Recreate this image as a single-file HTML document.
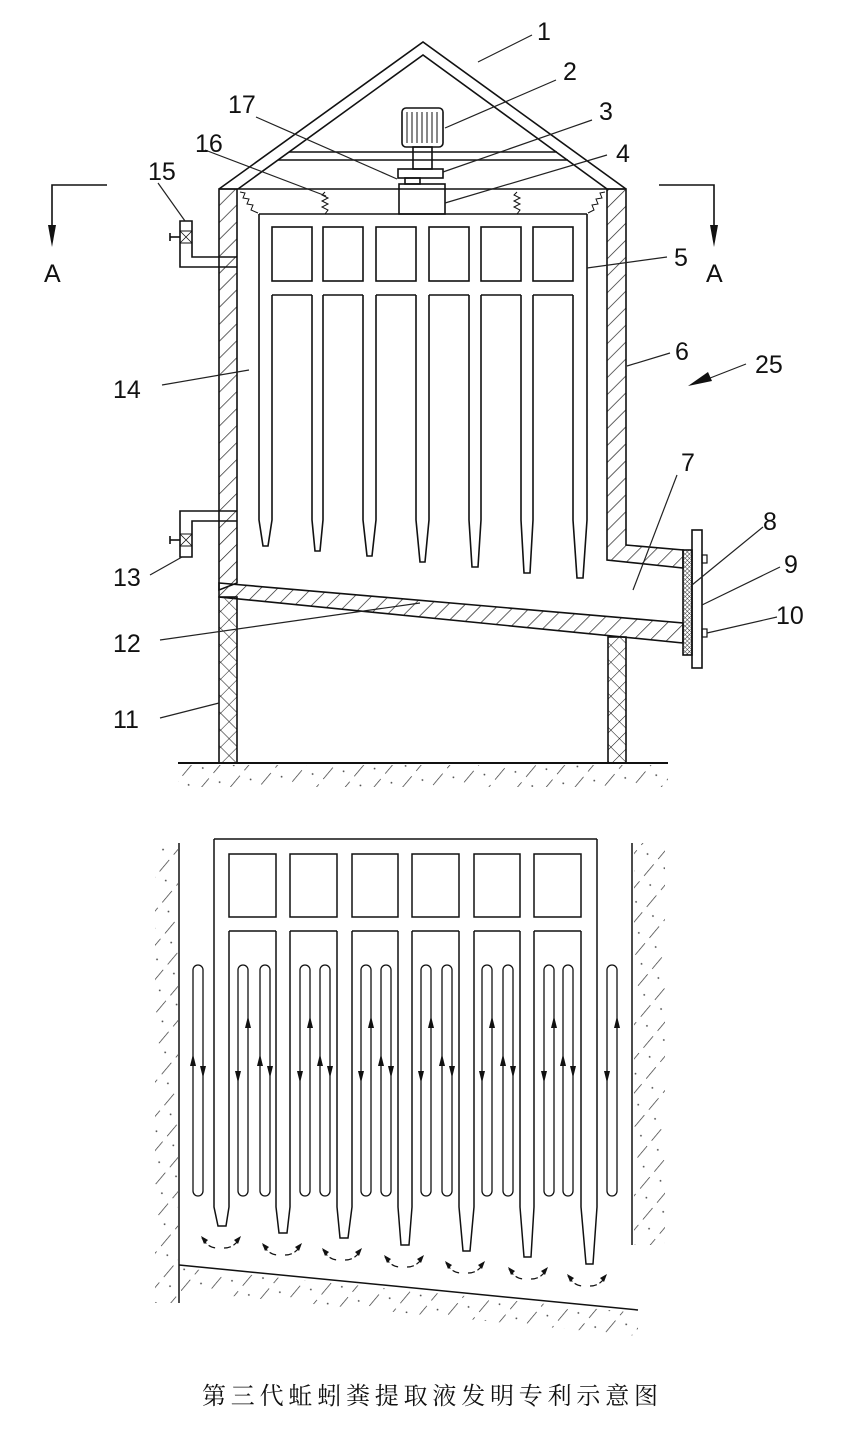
<!DOCTYPE html>
<html><head><meta charset="utf-8"><style>
html,body{margin:0;padding:0;background:#fff;}
svg{display:block;}
text{font-family:"Liberation Sans",sans-serif;font-size:25px;fill:#111;}
.cap{font-family:"Liberation Serif","Noto Serif CJK SC",serif;font-size:24px;letter-spacing:4.8px;}
</style></head><body>
<svg width="865" height="1429" viewBox="0 0 865 1429" xmlns="http://www.w3.org/2000/svg">
<defs>
<pattern id="h" width="12" height="12" patternUnits="userSpaceOnUse" patternTransform="rotate(45)"><line x1="0" y1="0" x2="0" y2="12" stroke="#222" stroke-width="1.4"/></pattern>
<pattern id="x" width="12" height="12" patternUnits="userSpaceOnUse" patternTransform="rotate(45)"><line x1="0" y1="0" x2="0" y2="12" stroke="#222" stroke-width="1.1"/><line x1="0" y1="0" x2="12" y2="0" stroke="#222" stroke-width="1.1"/></pattern>
<pattern id="f" width="3" height="3" patternUnits="userSpaceOnUse" patternTransform="rotate(45)"><line x1="0" y1="0" x2="0" y2="3" stroke="#222" stroke-width="0.9"/><line x1="0" y1="0" x2="3" y2="0" stroke="#222" stroke-width="0.9"/></pattern>
<pattern id="g" width="22" height="22" patternUnits="userSpaceOnUse" patternTransform="rotate(40)"><line x1="0" y1="0" x2="0" y2="15" stroke="#333" stroke-width="1.4"/><circle cx="11" cy="18" r="0.9" fill="#444"/></pattern>
</defs>
<g fill="none" stroke="#111" stroke-width="1.6">
<polyline points="219,189 423,42 626,189"/>
<polyline points="238,189 423,55 607,189"/>
<line x1="289" y1="152" x2="557" y2="152"/>
<line x1="278" y1="160" x2="568" y2="160"/>
<line x1="219" y1="189" x2="626" y2="189"/>
<rect x="402" y="108" width="41" height="39" rx="4"/>
<line x1="407" y1="112" x2="407" y2="143" stroke-width="1"/><line x1="412" y1="112" x2="412" y2="143" stroke-width="1"/><line x1="417" y1="112" x2="417" y2="143" stroke-width="1"/><line x1="422" y1="112" x2="422" y2="143" stroke-width="1"/><line x1="427" y1="112" x2="427" y2="143" stroke-width="1"/><line x1="432" y1="112" x2="432" y2="143" stroke-width="1"/><line x1="437" y1="112" x2="437" y2="143" stroke-width="1"/>
<rect x="413" y="147" width="19" height="22"/>
<rect x="398" y="169" width="45" height="9"/>
<rect x="405" y="178" width="15" height="6"/>
<rect x="399" y="184" width="46" height="30"/>
<polyline stroke-width="1" points="325,192 322,195 328,198 322,201 328,204 322,207 328,210 325,214"/>
<polyline stroke-width="1" points="517,192 514,195 520,198 514,201 520,204 514,207 520,210 517,214"/>
<polyline stroke-width="1" points="240,192 245,193 243,198 249,199 247,204 253,205 251,210 258,213"/>
<polyline stroke-width="1" points="605,192 600,193 602,198 596,199 598,204 592,205 594,210 588,213"/>
<polygon fill="url(#h)" points="219,189 237,189 237,583 219,590"/>
<polygon fill="url(#h)" points="607,189 626,189 626,545 683,550 683,568 607,560"/>
<polygon fill="url(#h)" points="219,583 683,623 683,643 219,597" />
<rect x="219" y="597" width="18" height="166" fill="url(#x)"/>
<rect x="608" y="637" width="18" height="126" fill="url(#x)"/>
<rect x="683" y="550" width="9" height="105" fill="url(#f)"/>
<rect x="692" y="530" width="10" height="138"/>
<rect x="702" y="555" width="5" height="8" stroke-width="1.2"/>
<rect x="702" y="629" width="5" height="8" stroke-width="1.2"/>
<polyline points="237,257 192,257 192,221 180,221 180,267 237,267"/>
<rect x="180" y="231" width="12" height="12" stroke-width="1"/><line x1="180" y1="231" x2="192" y2="243" stroke-width="0.8"/><line x1="192" y1="231" x2="180" y2="243" stroke-width="0.8"/>
<line x1="170" y1="237" x2="180" y2="237"/><line x1="170" y1="233" x2="170" y2="241"/>
<polyline points="237,511 180,511 180,557 192,557 192,521 237,521"/>
<rect x="180" y="534" width="12" height="12" stroke-width="1"/><line x1="180" y1="534" x2="192" y2="546" stroke-width="0.8"/><line x1="192" y1="534" x2="180" y2="546" stroke-width="0.8"/>
<line x1="170" y1="540" x2="180" y2="540"/><line x1="170" y1="536" x2="170" y2="544"/>
<line x1="178" y1="763" x2="668" y2="763" stroke-width="2"/>
<rect x="178" y="765" width="490" height="22" fill="url(#g)" stroke="none"/>
<line x1="259" y1="214" x2="587" y2="214"/>
<rect x="272" y="227" width="40" height="54"/><rect x="323" y="227" width="40" height="54"/><rect x="376" y="227" width="40" height="54"/><rect x="429" y="227" width="40" height="54"/><rect x="481" y="227" width="40" height="54"/><rect x="533" y="227" width="40" height="54"/>
<line x1="272" y1="295" x2="312" y2="295"/><line x1="323" y1="295" x2="363" y2="295"/><line x1="376" y1="295" x2="416" y2="295"/><line x1="429" y1="295" x2="469" y2="295"/><line x1="481" y1="295" x2="521" y2="295"/><line x1="533" y1="295" x2="573" y2="295"/>
<polyline points="259,214 259,520 263,546 268,546 272,520 272,295"/>
<polyline points="312,295 312,520 315,551 320,551 323,520 323,295"/>
<polyline points="363,295 363,520 367,556 372,556 376,520 376,295"/>
<polyline points="416,295 416,520 420,562 425,562 429,520 429,295"/>
<polyline points="469,295 469,520 472,567 478,567 481,520 481,295"/>
<polyline points="521,295 521,520 524,573 530,573 533,520 533,295"/>
<polyline points="573,295 573,520 577,578 583,578 587,520 587,214"/>
<polyline points="107,185 52,185 52,230"/>
<polyline points="659,185 714,185 714,230"/>
</g>
<polygon points="48,225 56,225 52,247" fill="#111"/>
<polygon points="710,225 718,225 714,247" fill="#111"/>
<text x="44" y="282">A</text><text x="706" y="282">A</text>
<g stroke="#222" stroke-width="1.2">
<line x1="478" y1="62" x2="532" y2="35"/>
<line x1="445" y1="128" x2="556" y2="80"/>
<line x1="443" y1="172" x2="592" y2="120"/>
<line x1="445" y1="203" x2="607" y2="155"/>
<line x1="397" y1="179" x2="256" y2="117"/>
<line x1="326" y1="196" x2="205" y2="150"/>
<line x1="185" y1="221" x2="158" y2="183"/>
<line x1="587" y1="268" x2="667" y2="257"/>
<line x1="627" y1="366" x2="670" y2="353"/>
<line x1="705" y1="380" x2="746" y2="364"/>
<line x1="633" y1="590" x2="677" y2="475"/>
<line x1="692" y1="585" x2="763" y2="527"/>
<line x1="702" y1="605" x2="780" y2="567"/>
<line x1="707" y1="633" x2="777" y2="617"/>
<line x1="160" y1="640" x2="420" y2="603"/>
<line x1="160" y1="718" x2="219" y2="703"/>
<line x1="150" y1="575" x2="182" y2="557"/>
<line x1="162" y1="385" x2="249" y2="370"/>
</g>
<polygon points="688,386 708,372 712,381" fill="#111"/>
<text x="537" y="40">1</text><text x="563" y="80">2</text><text x="599" y="120">3</text><text x="616" y="162">4</text>
<text x="228" y="113">17</text><text x="195" y="152">16</text><text x="148" y="180">15</text>
<text x="674" y="266">5</text><text x="675" y="360">6</text><text x="755" y="373">25</text>
<text x="681" y="471">7</text><text x="763" y="530">8</text><text x="784" y="573">9</text><text x="776" y="624">10</text>
<text x="113" y="398">14</text><text x="113" y="586">13</text><text x="113" y="652">12</text><text x="113" y="728">11</text>

<g fill="none" stroke="#111" stroke-width="1.5">
<line x1="179" y1="843" x2="179" y2="1303"/>
<rect x="155" y="843" width="23" height="460" fill="url(#g)" stroke="none"/>
<line x1="632" y1="843" x2="632" y2="1245"/>
<rect x="634" y="843" width="31" height="402" fill="url(#g)" stroke="none"/>
<line x1="179" y1="1265" x2="638" y2="1310"/>
<polygon points="181,1268 638,1313 638,1336 181,1291" fill="url(#g)" stroke="none"/>
<line x1="214" y1="839" x2="597" y2="839"/>
<rect x="229" y="854" width="47" height="63"/><rect x="290" y="854" width="47" height="63"/><rect x="352" y="854" width="46" height="63"/><rect x="412" y="854" width="47" height="63"/><rect x="474" y="854" width="46" height="63"/><rect x="534" y="854" width="47" height="63"/>
<line x1="229" y1="931" x2="276" y2="931"/><line x1="290" y1="931" x2="337" y2="931"/><line x1="352" y1="931" x2="398" y2="931"/><line x1="412" y1="931" x2="459" y2="931"/><line x1="474" y1="931" x2="520" y2="931"/><line x1="534" y1="931" x2="581" y2="931"/>
<polyline points="214,839 214,1207 218,1226 226,1226 229,1207 229,931"/>
<polyline points="276,931 276,1207 279,1233 287,1233 290,1207 290,931"/>
<polyline points="337,931 337,1207 340,1238 348,1238 352,1207 352,931"/>
<polyline points="398,931 398,1207 401,1245 409,1245 412,1207 412,931"/>
<polyline points="459,931 459,1207 463,1251 470,1251 474,1207 474,931"/>
<polyline points="520,931 520,1207 524,1257 531,1257 534,1207 534,931"/>
<polyline points="581,931 581,1207 586,1264 593,1264 597,1207 597,839"/>
<g stroke-width="1.3">
<rect x="193" y="965" width="10" height="231" rx="5"/>
<rect x="238" y="965" width="10" height="231" rx="5"/><rect x="260" y="965" width="10" height="231" rx="5"/>
<rect x="300" y="965" width="10" height="231" rx="5"/><rect x="320" y="965" width="10" height="231" rx="5"/>
<rect x="361" y="965" width="10" height="231" rx="5"/><rect x="381" y="965" width="10" height="231" rx="5"/>
<rect x="421" y="965" width="10" height="231" rx="5"/><rect x="442" y="965" width="10" height="231" rx="5"/>
<rect x="482" y="965" width="10" height="231" rx="5"/><rect x="503" y="965" width="10" height="231" rx="5"/>
<rect x="544" y="965" width="10" height="231" rx="5"/><rect x="563" y="965" width="10" height="231" rx="5"/>
<rect x="607" y="965" width="10" height="231" rx="5"/>
</g>
<g stroke-width="1.2" stroke-dasharray="7,3">
<path d="M202,1238 Q208,1248 217,1248 M224,1248 Q234,1248 240,1238"/>
<path d="M263,1245 Q269,1255 278,1255 M285,1255 Q295,1255 301,1245"/>
<path d="M323,1250 Q329,1260 338,1260 M345,1260 Q355,1260 361,1250"/>
<path d="M385,1257 Q391,1267 400,1267 M407,1267 Q417,1267 423,1257"/>
<path d="M446,1263 Q452,1273 461,1273 M468,1273 Q478,1273 484,1263"/>
<path d="M509,1269 Q515,1279 524,1279 M531,1279 Q541,1279 547,1269"/>
<path d="M568,1276 Q574,1286 583,1286 M590,1286 Q600,1286 606,1276"/>
</g>
</g>
<g fill="#111">
<polygon points="201,1236 208,1240 204,1244"/><polygon points="241,1236 234,1240 238,1244"/>
<polygon points="262,1243 269,1247 265,1251"/><polygon points="302,1243 295,1247 299,1251"/>
<polygon points="322,1248 329,1252 325,1256"/><polygon points="362,1248 355,1252 359,1256"/>
<polygon points="384,1255 391,1259 387,1263"/><polygon points="424,1255 417,1259 421,1263"/>
<polygon points="445,1261 452,1265 448,1269"/><polygon points="485,1261 478,1265 482,1269"/>
<polygon points="508,1267 515,1271 511,1275"/><polygon points="548,1267 541,1271 545,1275"/>
<polygon points="567,1274 574,1278 570,1282"/><polygon points="607,1274 600,1278 604,1282"/>
<polygon points="190,1066 193,1054 196,1066"/><polygon points="200,1066 203,1078 206,1066"/>
<polygon points="235,1071 238,1083 241,1071"/><polygon points="245,1028 248,1016 251,1028"/>
<polygon points="257,1066 260,1054 263,1066"/><polygon points="267,1066 270,1078 273,1066"/>
<polygon points="297,1071 300,1083 303,1071"/><polygon points="307,1028 310,1016 313,1028"/>
<polygon points="317,1066 320,1054 323,1066"/><polygon points="327,1066 330,1078 333,1066"/>
<polygon points="358,1071 361,1083 364,1071"/><polygon points="368,1028 371,1016 374,1028"/>
<polygon points="378,1066 381,1054 384,1066"/><polygon points="388,1066 391,1078 394,1066"/>
<polygon points="418,1071 421,1083 424,1071"/><polygon points="428,1028 431,1016 434,1028"/>
<polygon points="439,1066 442,1054 445,1066"/><polygon points="449,1066 452,1078 455,1066"/>
<polygon points="479,1071 482,1083 485,1071"/><polygon points="489,1028 492,1016 495,1028"/>
<polygon points="500,1066 503,1054 506,1066"/><polygon points="510,1066 513,1078 516,1066"/>
<polygon points="541,1071 544,1083 547,1071"/><polygon points="551,1028 554,1016 557,1028"/>
<polygon points="560,1066 563,1054 566,1066"/><polygon points="570,1066 573,1078 576,1066"/>
<polygon points="604,1071 607,1083 610,1071"/><polygon points="614,1028 617,1016 620,1028"/>
</g>
<text class="cap" x="202" y="1404">第三代蚯蚓粪提取液发明专利示意图</text>
</svg>
</body></html>
